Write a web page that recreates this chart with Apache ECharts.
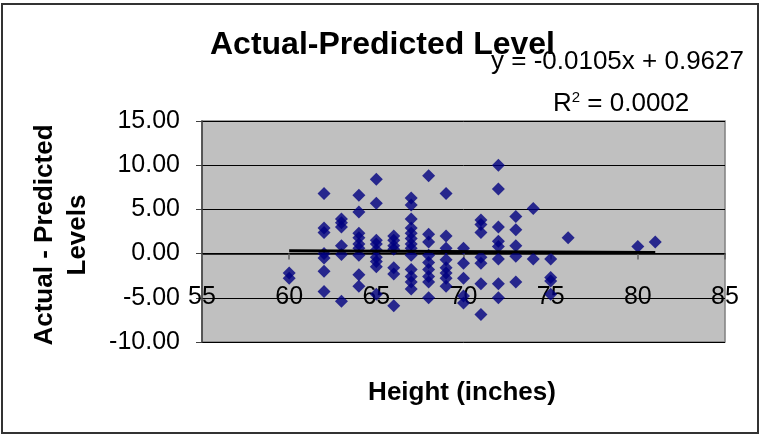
<!DOCTYPE html>
<html><head><meta charset="utf-8">
<script src="https://cdn.jsdelivr.net/npm/echarts@6/dist/echarts.min.js"></script>
<style>html,body{margin:0;padding:0;background:#fff}#c{width:760px;height:435px}</style>
</head><body><div id="c"></div>
<script>
// Heights (inches) and the residuals observed at each height
const heightValues = [60, 62, 63, 64, 65, 66, 67, 68, 69, 70, 71, 72, 73, 74, 75, 76, 80, 81];
const residualGroups = [
  [-2.2, -2.8],
  [6.8, 2.9, 2.4, 0.0, -0.5, -2.0, -4.3],
  [3.9, 3.5, 3.0, 0.9, -0.1, -5.4],
  [6.6, 4.7, 2.3, 1.8, 1.1, 0.6, -0.2, -2.4, -3.7],
  [8.4, 5.7, 1.5, 1.1, 0.4, -0.4, -0.9, -1.5, -4.6],
  [2.0, 1.5, 0.9, 0.5, -1.6, -2.3, -5.9],
  [6.3, 5.5, 3.9, 2.9, 2.3, 1.7, 1.1, 0.6, -0.2, -1.8, -2.6, -3.2, -4.0],
  [8.8, 2.2, 1.3, -0.2, -1.0, -1.8, -2.6, -3.2, -5.0],
  [6.8, 2.0, 0.6, -0.7, -1.6, -2.2, -2.8, -3.7],
  [0.6, -1.1, -2.8, -4.8, -5.6],
  [3.8, 3.3, 2.4, -0.4, -1.1, -3.4, -6.9],
  [10.0, 7.3, 3.0, 1.4, 0.8, -0.6, -3.4, -5.0],
  [4.2, 2.7, 0.9, -0.3, -3.2],
  [5.1, -0.6],
  [-0.6, -2.7, -3.1, -4.6],
  [1.8],
  [0.8],
  [1.3]
];
const xTicks = [55, 60, 65, 70, 75, 80, 85];
const yTicks = [-10, -5, 0, 5, 10, 15];
const trendSlope = -0.0105;
const trendIntercept = 0.9627;
const rSquared = '0.0002';

const points = [];
heightValues.forEach((h, i) => residualGroups[i].forEach(r => points.push([h, r])));
const xMinData = Math.min(...heightValues), xMaxData = Math.max(...heightValues);
const trend = [xMinData, xMaxData].map(x => [x, trendSlope * x + trendIntercept]);

// layout
const gridTop = 121, gridBottom = 93, H = 435;
const gridH = H - gridTop - gridBottom;
const yMin = yTicks[0], yMax = yTicks[yTicks.length - 1];
const xAxisOffset = -gridH * (0 - yMin) / (yMax - yMin); // axis crosses at y = 0

const chart = echarts.init(document.getElementById('c'), null, {renderer: 'canvas'});
const F = 'Liberation Sans, Arial, sans-serif';
chart.setOption({
  animation: false,
  backgroundColor: '#ffffff',
  grid: {left: 202, right: 35, top: gridTop, bottom: gridBottom, show: true,
         backgroundColor: '#c0c0c0', borderColor: '#808080', borderWidth: 1.5},
  xAxis: {
    type: 'value', min: xTicks[0], max: xTicks[xTicks.length - 1], interval: 5,
    position: 'bottom', offset: xAxisOffset,
    axisLine: {show: true, onZero: false, lineStyle: {color: '#000', width: 1.5}},
    axisTick: {show: true, length: 6, lineStyle: {color: '#606060', width: 1.5}},
    axisLabel: {margin: 31, fontSize: 25, color: '#000', fontFamily: F},
    splitLine: {show: false}
  },
  yAxis: {
    type: 'value', min: yMin, max: yMax, interval: 5,
    axisLine: {show: true, lineStyle: {color: '#404040', width: 1.5}},
    axisTick: {show: true, length: 6, lineStyle: {color: '#404040'}},
    axisLabel: {margin: 22, fontSize: 25, color: '#000', fontFamily: F,
                formatter: v => v.toFixed(2)},
    splitLine: {show: true, lineStyle: {color: '#000', width: 1}}
  },
  series: [
    {type: 'scatter', data: points, symbol: 'diamond', symbolSize: 13,
     itemStyle: {color: '#000080'}, z: 2},
    {type: 'line', data: trend, showSymbol: false, symbol: 'none',
     lineStyle: {color: '#000', width: 3}, z: 3}
  ],
  graphic: [
    {type: 'rect', shape: {x: 2, y: 4, width: 756, height: 429},
     style: {fill: 'none', stroke: '#333', lineWidth: 2}, silent: true, z: -10},
    {type: 'text', x: 210, y: 45, style: {text: 'Actual-Predicted Level', font: 'bold 32px ' + F,
     fill: '#000', textAlign: 'left', textVerticalAlign: 'middle'}},
    {type: 'text', x: 491, y: 62, style: {text: 'y = ' + trendSlope + 'x + ' + trendIntercept,
     font: '26px ' + F, fill: '#000', textAlign: 'left', textVerticalAlign: 'middle'}},
    {type: 'text', x: 553, y: 104, style: {text: '{r|R}{s|2}{r| = ' + rSquared + '}',
     fill: '#000', textAlign: 'left', textVerticalAlign: 'middle',
     rich: {r: {fontSize: 26, fontFamily: F, color: '#000'},
            s: {fontSize: 15, fontFamily: F, color: '#000', verticalAlign: 'top', padding: [0, 0, 12, 0]}}}},
    {type: 'text', x: 61, y: 235, rotation: Math.PI / 2,
     style: {text: 'Actual - Predicted\nLevels', font: 'bold 26px ' + F, fill: '#000',
     textAlign: 'center', textVerticalAlign: 'middle', lineHeight: 33}},
    {type: 'text', x: 462, y: 393, style: {text: 'Height (inches)', font: 'bold 26px ' + F,
     fill: '#000', textAlign: 'center', textVerticalAlign: 'middle'}}
  ]
});
</script></body></html>
